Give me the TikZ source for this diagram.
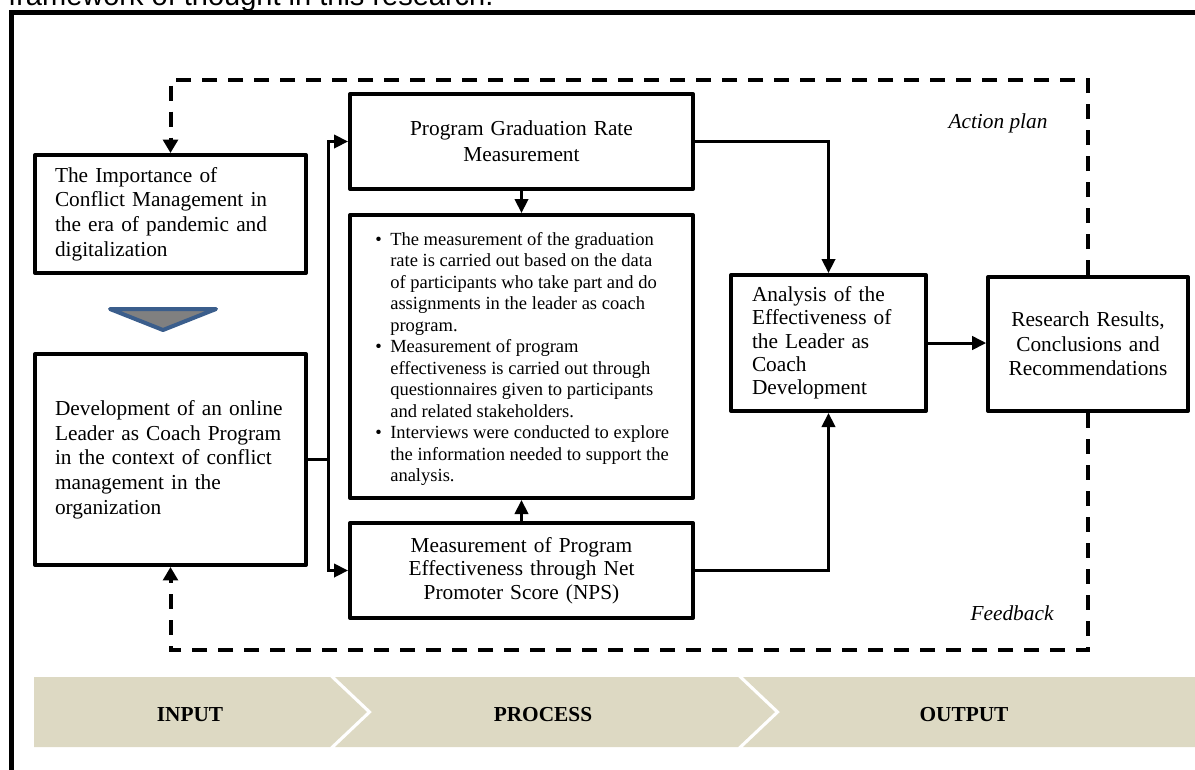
\documentclass[tikz,border=0pt]{standalone}
\usepackage{fontspec}
\setmainfont{Liberation Serif}
\newfontfamily\arialfont{Liberation Sans}
\usetikzlibrary{arrows.meta}
\definecolor{bandtan}{HTML}{DDD9C3}
\definecolor{triblue}{HTML}{3B5E8C}
\definecolor{trigrey}{HTML}{808080}
\newcommand{\bitem}{\makebox[11.25pt][l]{\textbullet}}
\newcommand{\bcont}{\hspace*{11.25pt}}
\begin{document}
\begin{tikzpicture}[x=0.75pt,y=-0.75pt,
  box/.style={draw, line width=3pt, inner sep=0pt, line join=round},
  conn/.style={line width=2.25pt, -{Triangle[length=10.5pt,width=10pt]}},
  plainline/.style={line width=2.25pt},
  dashline/.style={line width=3pt, dash pattern=on 11.25pt off 8.25pt, -{Triangle[length=10pt,width=11pt]}},
  boxfont/.style={font=\fontsize{16}{18.5}\selectfont},
  lbl/.style={inner sep=0pt, font=\itshape\fontsize{16}{19}\selectfont},
  band/.style={inner sep=0pt, font=\bfseries\fontsize{16}{19}\selectfont}
]
\useasboundingbox (0,0) rectangle (1195,769);
\clip (0,0) rectangle (1195,769);

% title line (cut off at the top)
\node[anchor=base west, inner sep=0pt, font=\arialfont\fontsize{21.75}{26}\selectfont] (title) at (8,5.5) {framework of thought in this research.};

% outer frame
\draw[line width=3.4pt] (11.5,800) -- (11.5,12.5) -- (1250,12.5);

% boxes
\node[box, boxfont, text width=173.25pt, inner xsep=15pt, minimum height=88.5pt, align=left] (imp) at (170.5,214)
  {The Importance of\\Conflict Management in\\the era of pandemic and\\digitalization};
\node[box, boxfont, text width=173.25pt, inner xsep=15pt, minimum height=158.25pt, align=left] (dev) at (170.5,459.5)
  {Development of an online\\Leader as Coach Program\\in the context of conflict\\management in the\\organization};
\node[box, font=\fontsize{16}{19.5}\selectfont, text width=237.25pt, inner xsep=10pt, minimum height=71.25pt, align=center] (pgr) at (521.5,141.5)
  {Program Graduation Rate\\Measurement};
\node[box, minimum width=257.25pt, minimum height=212.25pt] (bul) at (521.5,356.5) {};
\node[anchor=west, inner sep=0pt, align=left, font=\fontsize{13.9}{16.1}\selectfont] (bultext) at (375,359)
  {\bitem The measurement of the graduation\\
   \bcont rate is carried out based on the data\\
   \bcont of participants who take part and do\\
   \bcont assignments in the leader as coach\\
   \bcont program.\\
   \bitem Measurement of program\\
   \bcont effectiveness is carried out through\\
   \bcont questionnaires given to participants\\
   \bcont and related stakeholders.\\
   \bitem Interviews were conducted to explore\\
   \bcont the information needed to support the\\
   \bcont analysis.};
\node[box, font=\fontsize{16}{17.5}\selectfont, text width=237.25pt, inner xsep=10pt, minimum height=71.25pt, align=center] (nps) at (521.5,570.5)
  {Measurement of Program\\Effectiveness through Net\\Promoter Score (NPS)};
\node[box, font=\fontsize{16}{17.5}\selectfont, text width=114.75pt, inner xsep=15.75pt, minimum height=102pt, align=left] (ana) at (828.5,343)
  {Analysis of the\\Effectiveness of\\the Leader as\\Coach\\Development};
\node[box, boxfont, text width=129.75pt, inner xsep=10pt, minimum height=100.5pt, align=center] (res) at (1088,344)
  {Research Results,\\Conclusions and\\Recommendations};

% grey triangle between the input boxes
\draw[triblue, fill=trigrey, line width=3pt, line join=round] (110,309) -- (216,309) -- (163,330) -- cycle;

% solid connectors
\coordinate (j) at (328,459.5);
\draw[plainline] (dev.east) -- (j);
\draw[conn] (j) |- (pgr.west);
\draw[conn] (j) |- (nps.west);
\draw[conn] (pgr.south) -- (bul.north);
\draw[conn] (nps.north) -- (bul.south);
\draw[conn] (pgr.east) -| (ana.north);
\draw[conn] (nps.east) -| (ana.south);
\draw[conn] (ana.east) -- (ana.east -| res.west);

% dashed loops
\coordinate (topy) at (0,80);
\coordinate (boty) at (0,650);
\draw[dashline] (res.north) -- (res.north |- topy) -| (imp.north);
\draw[dashline] (res.south) -- (res.south |- boty) -| (dev.south);
\node[lbl] (ap) at (998,123) {Action plan};
\node[lbl] (fb) at (1012,613) {Feedback};

% bottom chevron band
\fill[bandtan] (34,677) -- (330,677) -- (367,712) -- (330,747) -- (34,747) -- cycle;
\fill[bandtan] (335,677) -- (738,677) -- (775,712) -- (738,747) -- (335,747) -- (372,712) -- cycle;
\fill[bandtan] (743,677) -- (1200,677) -- (1200,747) -- (743,747) -- (780,712) -- cycle;
\node[band] (inp) at (190,715) {INPUT};
\node[band] (proc) at (543,715) {PROCESS};
\node[band] (outp) at (964,715) {OUTPUT};
\end{tikzpicture}
\end{document}
